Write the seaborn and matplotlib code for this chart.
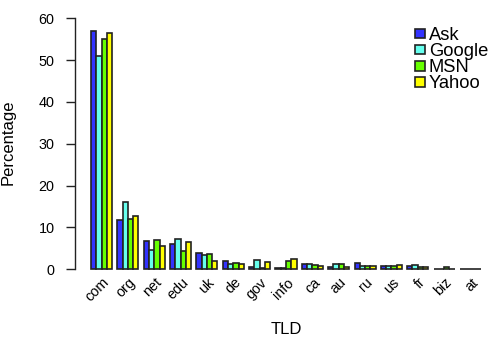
import matplotlib
matplotlib.use("Agg")
import matplotlib.pyplot as plt
import matplotlib.transforms as mtransforms
import numpy as np
import pandas as pd
import seaborn as sns

# values (percentage of results per TLD)
tlds = ["com", "org", "net", "edu", "uk", "de", "gov", "info", "ca", "au",
        "ru", "us", "fr", "biz", "at"]
ask = [56.9, 11.8, 6.7, 6.0, 3.8, 2.0, 0.6, 0.4, 1.2, 0.6, 1.6, 0.7, 0.8, 0.1, 0.15]
google = [51.1, 16.1, 4.7, 7.3, 3.4, 1.2, 2.2, 0.4, 1.2, 1.2, 0.7, 0.7, 1.1, 0.1, 0.15]
msn = [55.0, 12.0, 7.1, 4.3, 3.7, 1.6, 0.4, 1.9, 1.0, 1.2, 0.7, 0.7, 0.5, 0.5, 0.15]
yahoo = [56.4, 12.8, 5.6, 6.5, 2.0, 1.2, 1.7, 2.5, 0.7, 0.6, 0.7, 0.9, 0.5, 0.1, 0.1]
engines = ["Ask", "Google", "MSN", "Yahoo"]
colors = ["#3333FF", "#66FFEE", "#66FF00", "#FFFF00"]

df = pd.DataFrame({
    "TLD": tlds * 4,
    "Engine": np.repeat(engines, len(tlds)),
    "Percentage": ask + google + msn + yahoo,
})

sns.set_style("white")
plt.rcParams["font.family"] = ["Liberation Sans", "DejaVu Sans"]
plt.rcParams["text.color"] = "black"
plt.rcParams["axes.labelcolor"] = "black"
plt.rcParams["ytick.color"] = "black"
fs = 10.4     # tick labels
fs_lab = 12.0  # axis titles
fs_leg = 13.2  # legend

fig = plt.figure(figsize=(5, 3.5), dpi=100)
ax = fig.add_axes([0.1508, 0.202, 0.8424, 0.7743])

sns.barplot(data=df, x="TLD", y="Percentage", hue="Engine", order=tlds,
            hue_order=engines, palette=colors, saturation=1, width=0.8,
            edgecolor="#222222", linewidth=1.2, ax=ax)

ax.set_xlim(-0.992, 14.992)
ax.set_ylim(-2.4, 62.4)

for s in ["top", "right", "bottom"]:
    ax.spines[s].set_visible(False)
ax.spines["left"].set_bounds(0, 60)
ax.spines["left"].set_color("#222222")
ax.spines["left"].set_linewidth(1.0)
ax.set_yticks(range(0, 61, 10))
ax.tick_params(axis="y", length=6.5, width=1.0, color="#222222", pad=8.6,
               labelsize=fs, labelcolor="black", left=True, direction="out")
ax.set_xticks([])
ax.set_xlabel("")
ax.set_ylabel("Percentage", fontsize=fs_lab)
ax.yaxis.set_label_coords(-0.141, 0.507)

# rotated category labels, anchored at their right end
off = mtransforms.ScaledTranslation(5.5 / 100, -1.0 / 100, fig.dpi_scale_trans)
trans = mtransforms.blended_transform_factory(ax.transData, ax.transAxes) + off
for i, t in enumerate(tlds):
    ax.text(i, 0, t, transform=trans, rotation=45, ha="right", va="center",
            rotation_mode="anchor", fontsize=fs)

fig.text(286 / 500, 1 - 330 / 350, "TLD", ha="center", va="center",
         fontsize=fs_lab)

ax.legend(loc="upper left", bbox_to_anchor=(415 / 500, 1 - 27 / 350),
          bbox_transform=fig.transFigure, frameon=False, fontsize=fs_leg,
          borderpad=0, borderaxespad=0, handlelength=0.55, handleheight=0.45,
          handletextpad=0.2, labelspacing=-0.05, title=None)

fig.savefig("out.png", dpi=100)
